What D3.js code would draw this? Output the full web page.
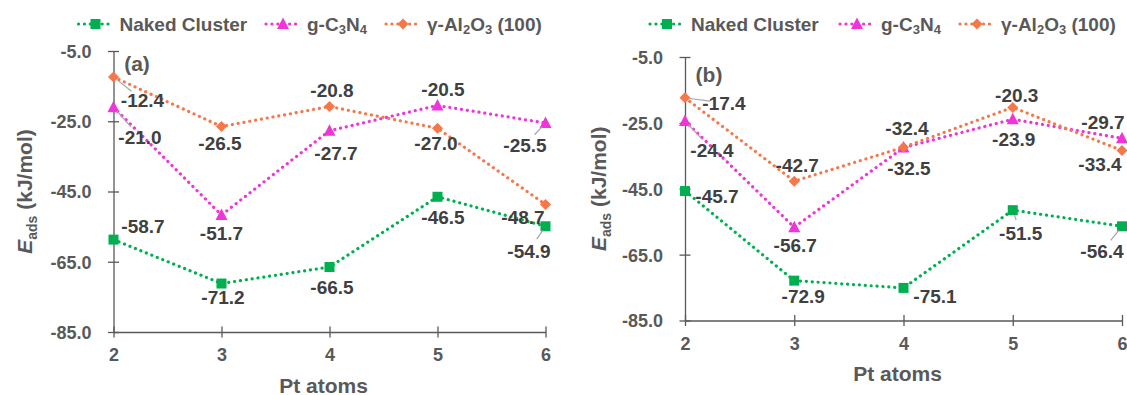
<!DOCTYPE html>
<html>
<head>
<meta charset="utf-8">
<script src="https://cdn.jsdelivr.net/npm/d3@7"></script>
<style>
  html, body { margin: 0; padding: 0; background: #fff; }
  svg { display: block; }
  text { font-family: "Liberation Sans", Arial, sans-serif; font-weight: bold; }
</style>
</head>
<body>
<svg id="chart" width="1127" height="395"></svg>
<script>
// ---------------- data ----------------
const categories = [2, 3, 4, 5, 6];
const yTicks = [-5, -25, -45, -65, -85];
const seriesNames = ["Naked Cluster", "g-C3N4", "γ-Al2O3 (100)"];
const panelNames = ["(a)", "(b)"];
const xTitle = "Pt atoms";

const a_naked = [-58.7, -71.2, -66.5, -46.5, -54.9];
const a_gc3n4 = [-21.0, -51.7, -27.7, -20.5, -25.5];
const a_al2o3 = [-12.4, -26.5, -20.8, -27.0, -48.7];

const b_naked = [-45.7, -72.9, -75.1, -51.5, -56.4];
const b_gc3n4 = [-24.4, -56.7, -32.5, -23.9, -29.7];
const b_al2o3 = [-17.4, -42.7, -32.4, -20.3, -33.4];

// ---------------- styles / layout ----------------
const colors = ["#00B050", "#EE35D8", "#F5784B"];
const markers = ["square", "triangle", "diamond"];

// data-label offsets (px from point) [dx, dy, leader?]
const offA = [
  [[29.5,-13.6,0],[1.5,13.5,0],[2.5,20,0],[5.5,20,0],[-16.5,24.5,1]],
  [[26.5,30,1],[0,18,0],[6.5,22,0],[5.5,-16.5,0],[-20.5,22,1]],
  [[29,23,1],[-1.5,16.5,0],[2.5,-16.5,0],[-1.5,14.7,0],[-22.5,12.5,0]]
];
const offB = [
  [[32,5,0],[9,15.5,0],[31.5,8,0],[8,23,1],[-20,25,1]],
  [[27,29,1],[1,18,0],[5.5,21,0],[1,20,0],[-19,-16,0]],
  [[39,5,1],[3,-16,0],[3.5,-19,0],[4,-12.5,0],[-22,13.5,0]]
];

const panels = [
  { name: panelNames[0], series: [a_naked, a_gc3n4, a_al2o3], off: offA,
    x0: 113.5, x1: 545.5, yTop: 51, yBot: 332, titleX: 24, labelPos: [137, 63],
    legendX: [78.5, 266, 386] },
  { name: panelNames[1], series: [b_naked, b_gc3n4, b_al2o3], off: offB,
    x0: 685, x1: 1122, yTop: 57, yBot: 320.5, titleX: 598, labelPos: [709, 74],
    legendX: [650, 840, 960] }
];

const axisColor = "#595959";
const tickColor = "#595959";
const labelColor = "#404040";

const svg = d3.select("#chart");
svg.append("rect").attr("width", 1127).attr("height", 395).attr("fill", "#fff");

function drawMarker(g, type, cx, cy, color) {
  if (type === "square") {
    g.append("rect").attr("x", cx - 5).attr("y", cy - 5).attr("width", 10).attr("height", 10).attr("fill", color);
  } else if (type === "triangle") {
    g.append("path").attr("d", `M${cx},${cy-6.5}L${cx+6},${cy+5}L${cx-6},${cy+5}Z`).attr("fill", color);
  } else {
    g.append("path").attr("d", `M${cx},${cy-5.5}L${cx+5.5},${cy}L${cx},${cy+5.5}L${cx-5.5},${cy}Z`).attr("fill", color);
  }
}

function legendText(sel, name) {
  if (name === "g-C3N4") {
    sel.append("tspan").text("g-C");
    sel.append("tspan").attr("font-size", 13).attr("dy", 3).text("3");
    sel.append("tspan").attr("dy", -3).text("N");
    sel.append("tspan").attr("font-size", 13).attr("dy", 3).text("4");
  } else if (name === "γ-Al2O3 (100)") {
    sel.append("tspan").text("γ-Al");
    sel.append("tspan").attr("font-size", 13).attr("dy", 3).text("2");
    sel.append("tspan").attr("dy", -3).text("O");
    sel.append("tspan").attr("font-size", 13).attr("dy", 3).text("3");
    sel.append("tspan").attr("dy", -3).text(" (100)");
  } else {
    sel.text(name);
  }
}

panels.forEach(p => {
  const x = d3.scaleLinear().domain([categories[0], categories[categories.length - 1]]).range([p.x0, p.x1]);
  const y = d3.scaleLinear().domain([-5, -85]).range([p.yTop, p.yBot]);
  const g = svg.append("g");

  // y axis
  const ya = g.append("g").attr("transform", `translate(${p.x0},0)`)
    .call(d3.axisLeft(y).tickValues(yTicks).tickFormat(d => d.toFixed(1)).tickSize(5).tickSizeOuter(0).tickPadding(17));
  ya.select(".domain").attr("stroke", axisColor).attr("stroke-width", 1.3);
  ya.selectAll(".tick line").attr("x1", -5.5).attr("x2", 5.5).attr("stroke", axisColor).attr("stroke-width", 1.3);
  ya.selectAll(".tick text").attr("fill", tickColor).attr("font-size", 18).attr("dy", "0.36em")
    .attr("font-family", "'Liberation Sans', Arial, sans-serif").attr("font-weight", "bold");

  // x axis
  const xa = g.append("g").attr("transform", `translate(0,${p.yBot})`)
    .call(d3.axisBottom(x).tickValues(categories).tickFormat(d => String(d)).tickSize(5).tickSizeOuter(0));
  xa.select(".domain").attr("stroke", axisColor).attr("stroke-width", 1.3);
  xa.selectAll(".tick line").attr("y1", -5.5).attr("y2", 5.5).attr("stroke", axisColor).attr("stroke-width", 1.3);
  xa.selectAll(".tick text").attr("fill", tickColor).attr("font-size", 18).attr("y", 23).attr("dy", "0.36em")
    .attr("font-family", "'Liberation Sans', Arial, sans-serif").attr("font-weight", "bold");

  // x title
  g.append("text").attr("x", (p.x0 + p.x1) / 2 - 6).attr("y", p.yBot + 53 + 7.5)
    .attr("text-anchor", "middle").attr("fill", tickColor).attr("font-size", 21).text(xTitle);

  // y title
  const yt = g.append("text").attr("transform", `translate(${p.titleX},${(p.yTop + p.yBot) / 2}) rotate(-90)`)
    .attr("text-anchor", "middle").attr("dy", "0.36em").attr("fill", tickColor).attr("font-size", 21);
  yt.append("tspan").attr("font-style", "italic").text("E");
  yt.append("tspan").attr("font-size", 14).attr("dy", 5).text("ads");
  yt.append("tspan").attr("dy", -5).text(" (kJ/mol)");

  // panel label
  g.append("text").attr("x", p.labelPos[0]).attr("y", p.labelPos[1]).attr("dy", "0.36em")
    .attr("text-anchor", "middle").attr("fill", tickColor).attr("font-size", 21).text(p.name);

  // series lines
  const line = d3.line().x((d, i) => x(categories[i])).y(d => y(d));
  p.series.forEach((vals, s) => {
    g.append("path").datum(vals).attr("d", line).attr("fill", "none")
      .attr("stroke", colors[s]).attr("stroke-width", 3.2)
      .attr("stroke-linecap", "round").attr("stroke-dasharray", "0.1 5.8");
  });
  // markers
  p.series.forEach((vals, s) => {
    vals.forEach((v, i) => drawMarker(g, markers[s], x(categories[i]), y(v), colors[s]));
  });
  // leaders + labels
  p.series.forEach((vals, s) => {
    vals.forEach((v, i) => {
      const px = x(categories[i]), py = y(v);
      const o = p.off[s][i];
      if (o[2]) {
        const len = Math.hypot(o[0], o[1]);
        const ux = o[0] / len, uy = o[1] / len;
        const start = 5, end = Math.max(start + 3, len - 14);
        g.append("line")
          .attr("x1", px + ux * start).attr("y1", py + uy * start)
          .attr("x2", px + ux * end).attr("y2", py + uy * end)
          .attr("stroke", "#A6A6A6").attr("stroke-width", 1.2);
      }
      g.append("text").attr("x", px + o[0]).attr("y", py + o[1]).attr("dy", "0.36em")
        .attr("text-anchor", "middle").attr("fill", labelColor).attr("font-size", 19)
        .text(v.toFixed(1));
    });
  });

  // legend
  seriesNames.forEach((name, s) => {
    const lx = p.legendX[s], ly = 24;
    g.append("line").attr("x1", lx).attr("x2", lx + 34).attr("y1", ly).attr("y2", ly)
      .attr("stroke", colors[s]).attr("stroke-width", 3.2)
      .attr("stroke-linecap", "round").attr("stroke-dasharray", "0.1 5.8");
    drawMarker(g, markers[s], lx + 17, ly, colors[s]);
    const t = g.append("text").attr("x", lx + 41).attr("y", ly).attr("dy", "0.36em")
      .attr("fill", tickColor).attr("font-size", 19);
    legendText(t, name);
  });
});
</script>
</body>
</html>
